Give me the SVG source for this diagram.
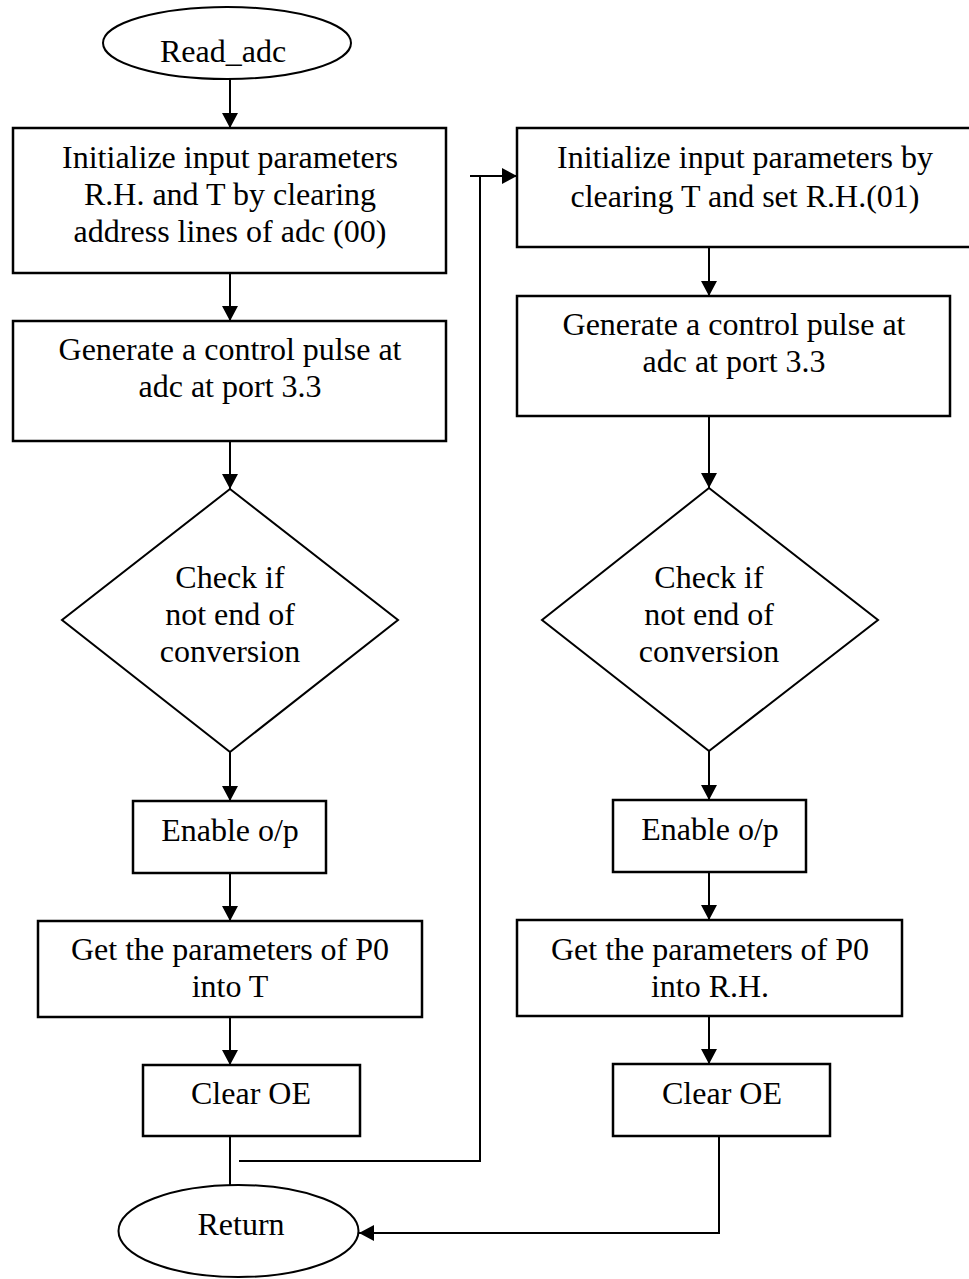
<svg xmlns="http://www.w3.org/2000/svg" width="969" height="1279" viewBox="0 0 969 1279">
<style>
.box{fill:#fff;stroke:#000;stroke-width:2.5}
.shape{fill:#fff;stroke:#000;stroke-width:2}
.t{font-family:"Liberation Serif","Times New Roman",serif;font-size:32px;fill:#000;text-anchor:middle}
.c{fill:none;stroke:#000;stroke-width:2}
.ca{fill:none;stroke:#000;stroke-width:2;marker-end:url(#arr)}
</style>
<defs>
<marker id="arr" markerUnits="userSpaceOnUse" markerWidth="15" markerHeight="16" refX="15" refY="8" orient="auto">
<path d="M0,0 L15,8 L0,16 z" fill="#000"/>
</marker>
</defs>
<rect width="969" height="1279" fill="#fff"/>
<g id="connectors">
<line class="ca" x1="230" y1="79" x2="230" y2="128"/>
<line class="ca" x1="230" y1="273" x2="230" y2="321"/>
<line class="ca" x1="230" y1="441" x2="230" y2="489"/>
<line class="ca" x1="230" y1="752" x2="230" y2="801"/>
<line class="ca" x1="230" y1="873" x2="230" y2="921"/>
<line class="ca" x1="230" y1="1017" x2="230" y2="1065"/>
<line class="c" x1="230" y1="1136" x2="230" y2="1185"/>
<polyline class="c" points="239,1161 480,1161 480,176"/>
<line class="ca" x1="470" y1="176" x2="517" y2="176"/>
<line class="ca" x1="709" y1="247" x2="709" y2="296"/>
<line class="ca" x1="709" y1="416" x2="709" y2="488"/>
<line class="ca" x1="709" y1="751" x2="709" y2="800"/>
<line class="ca" x1="709" y1="872" x2="709" y2="920"/>
<line class="ca" x1="709" y1="1016" x2="709" y2="1064"/>
<polyline class="ca" points="719,1136 719,1233 359,1233"/>
</g>
<g id="read_adc">
<ellipse class="shape" cx="227" cy="43" rx="124" ry="36"/>
<text class="t" x="223" y="62">Read_adc</text>
</g>
<g id="init1">
<rect class="box" x="13" y="128" width="433" height="145"/>
<text class="t" x="230" y="168">Initialize input parameters</text>
<text class="t" x="230" y="205">R.H. and T by clearing</text>
<text class="t" x="230" y="242">address lines of adc (00)</text>
</g>
<g id="pulse1">
<rect class="box" x="13" y="321" width="433" height="120"/>
<text class="t" x="230" y="360">Generate a control pulse at</text>
<text class="t" x="230" y="397">adc at port 3.3</text>
</g>
<g id="check1">
<polygon class="shape" points="230,489 398,620 230,752 62,620"/>
<text class="t" x="230" y="588">Check if</text>
<text class="t" x="230" y="625">not end of</text>
<text class="t" x="230" y="662">conversion</text>
</g>
<g id="enable1">
<rect class="box" x="133" y="801" width="193" height="72"/>
<text class="t" x="230" y="841">Enable o/p</text>
</g>
<g id="get1">
<rect class="box" x="38" y="921" width="384" height="96"/>
<text class="t" x="230" y="960">Get the parameters of P0</text>
<text class="t" x="230" y="997">into T</text>
</g>
<g id="clear1">
<rect class="box" x="143" y="1065" width="217" height="71"/>
<text class="t" x="251" y="1104">Clear OE</text>
</g>
<g id="return">
<ellipse class="shape" cx="238.5" cy="1231" rx="120" ry="46"/>
<text class="t" x="241" y="1235">Return</text>
</g>
<g id="init2">
<rect class="box" x="517" y="128" width="456" height="119"/>
<text class="t" x="745" y="168">Initialize input parameters by</text>
<text class="t" x="745" y="207">clearing T and set R.H.(01)</text>
</g>
<g id="pulse2">
<rect class="box" x="517" y="296" width="433" height="120"/>
<text class="t" x="734" y="335">Generate a control pulse at</text>
<text class="t" x="734" y="372">adc at port 3.3</text>
</g>
<g id="check2">
<polygon class="shape" points="709,488 878,620 709,751 542,620"/>
<text class="t" x="709" y="588">Check if</text>
<text class="t" x="709" y="625">not end of</text>
<text class="t" x="709" y="662">conversion</text>
</g>
<g id="enable2">
<rect class="box" x="613" y="800" width="193" height="72"/>
<text class="t" x="710" y="840">Enable o/p</text>
</g>
<g id="get2">
<rect class="box" x="517" y="920" width="385" height="96"/>
<text class="t" x="710" y="960">Get the parameters of P0</text>
<text class="t" x="710" y="997">into R.H.</text>
</g>
<g id="clear2">
<rect class="box" x="613" y="1064" width="217" height="72"/>
<text class="t" x="722" y="1104">Clear OE</text>
</g>
</svg>
